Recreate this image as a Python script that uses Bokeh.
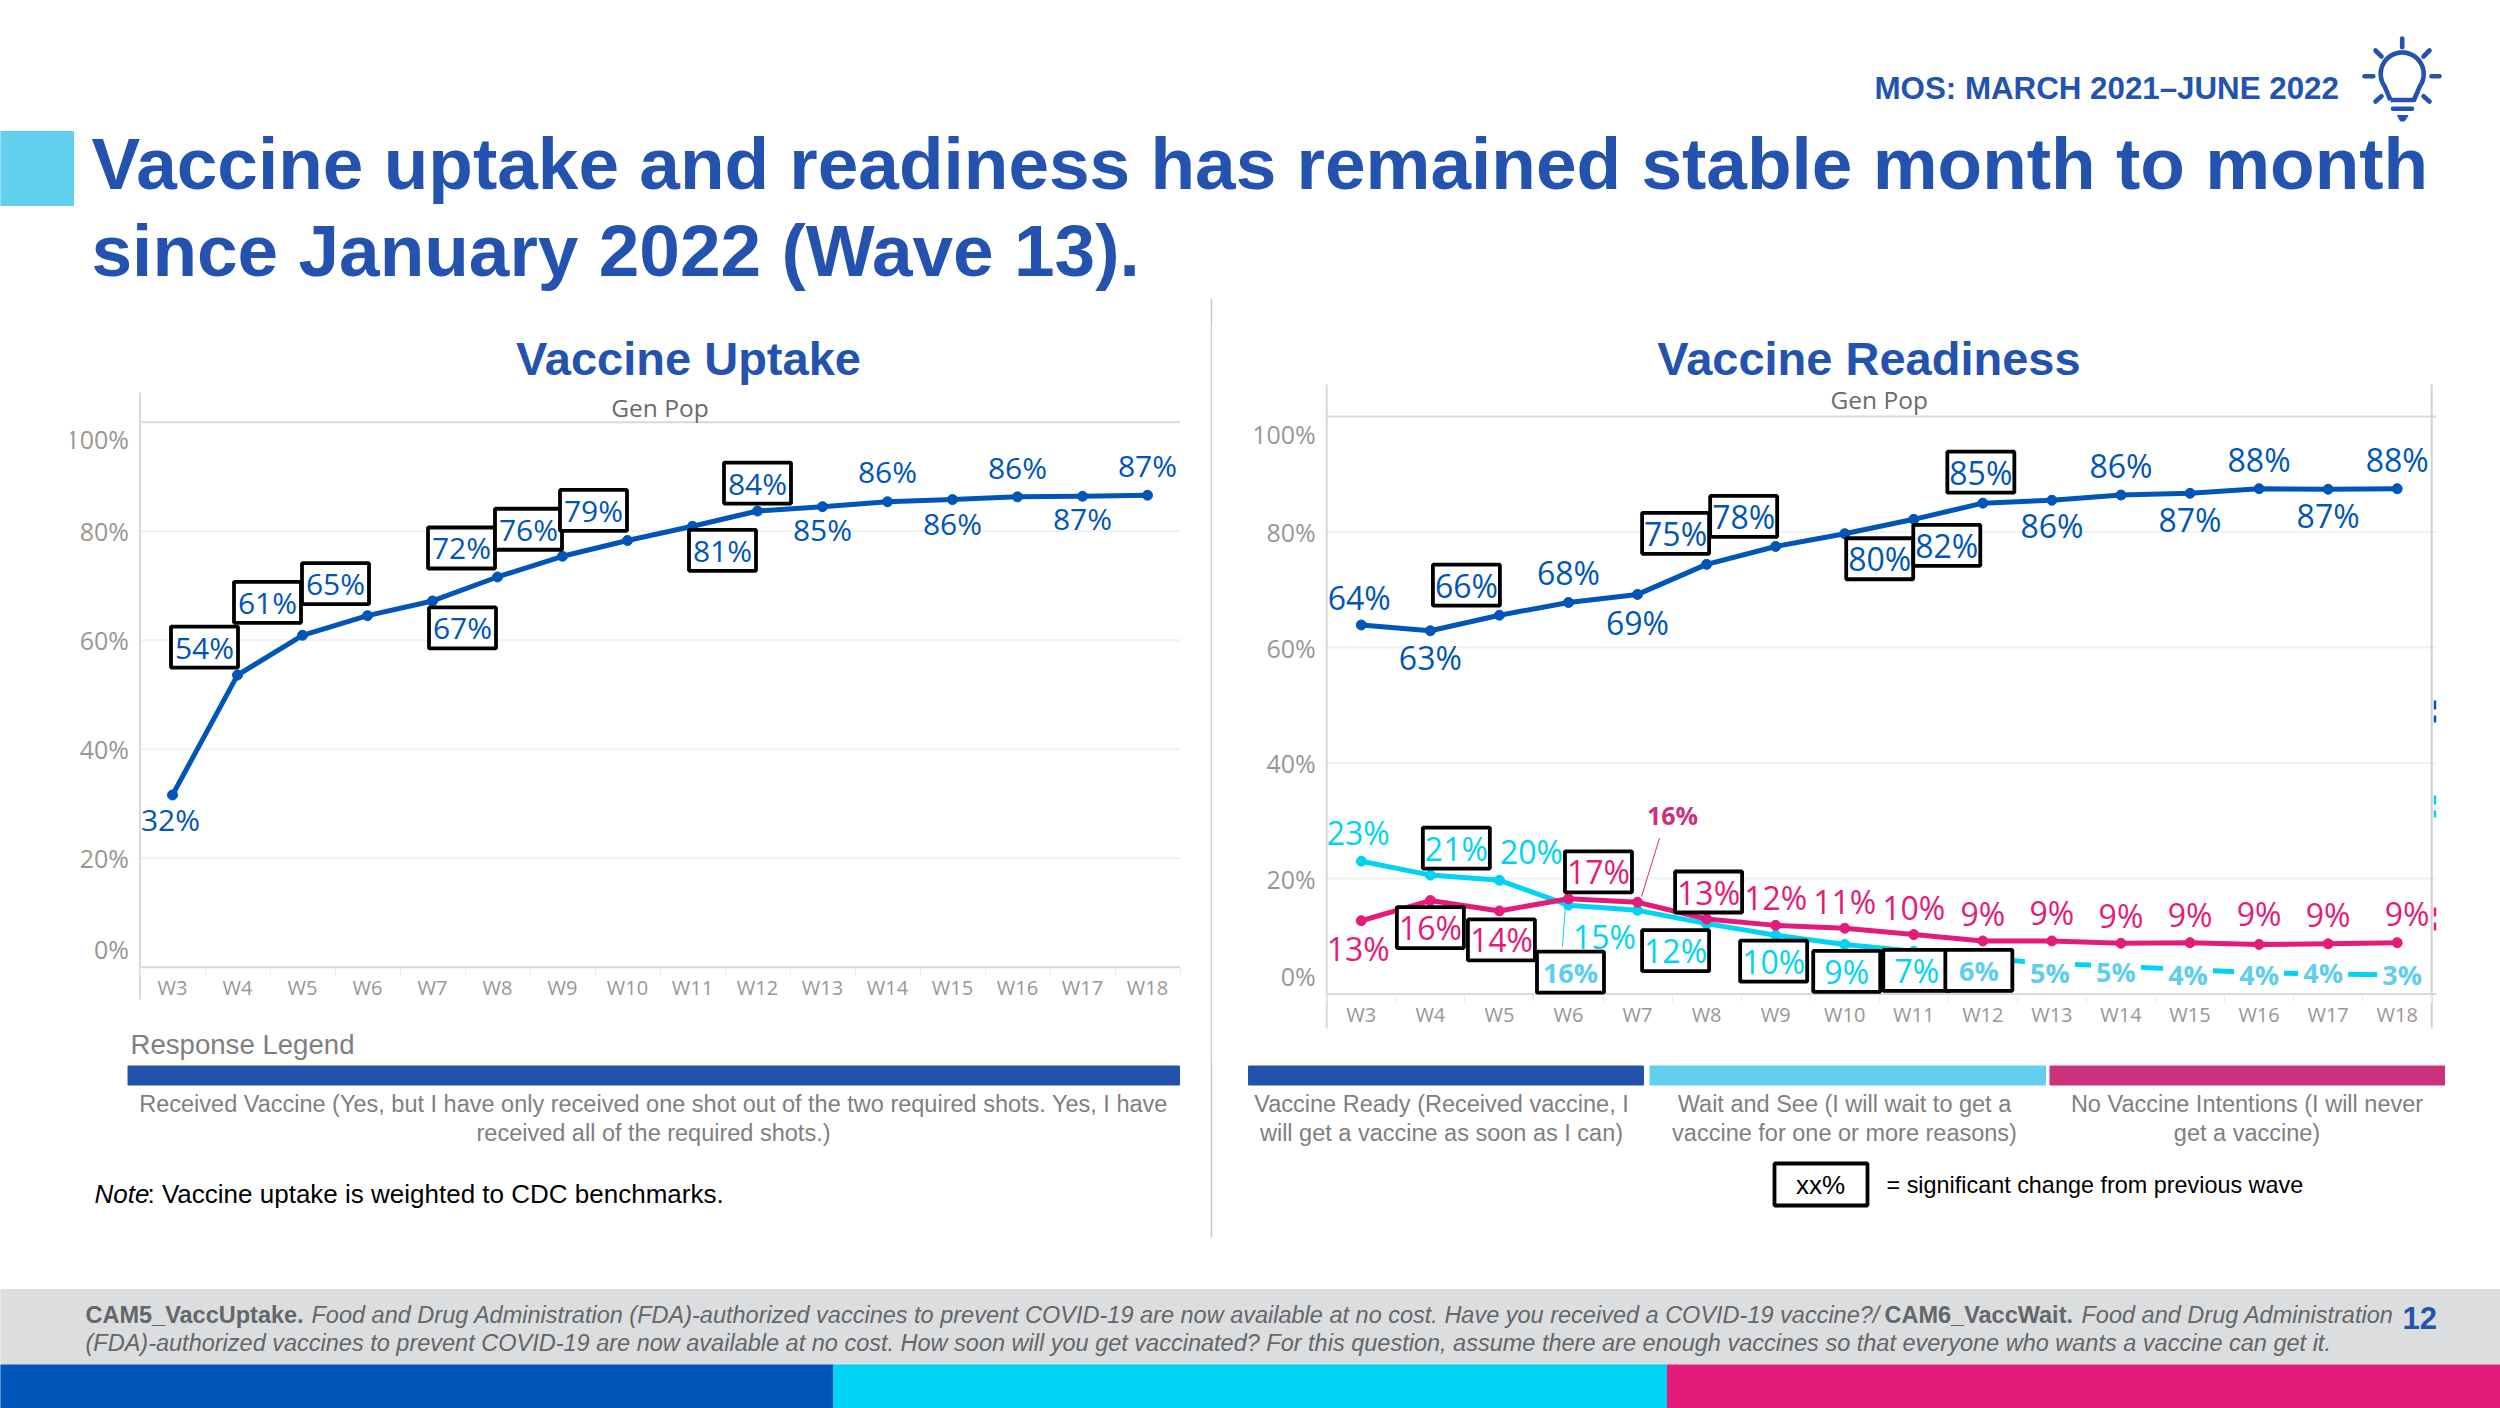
import numpy as np
from bokeh.core.properties import value
from bokeh.embed import file_html
from bokeh.layouts import column, row
from bokeh.models import FixedTicker, Range1d
from bokeh.plotting import figure
from bokeh.resources import INLINE

# ---------- data ----------
weeks = ["W3", "W4", "W5", "W6", "W7", "W8", "W9", "W10", "W11", "W12", "W13", "W14", "W15", "W16", "W17", "W18"]
y_ticks = [0, 20, 40, 60, 80, 100]
y_tick_labels = ["0%", "20%", "40%", "60%", "80%", "100%"]

uptake_values = [31.6, 53.6, 60.9, 64.5, 67.2, 71.6, 75.4, 78.3, 80.9, 83.7, 84.5, 85.4, 85.8, 86.3, 86.4, 86.6]
uptake_labels = ["32%", "54%", "61%", "65%", "67%", "72%", "76%", "79%", "81%", "84%", "85%", "86%", "86%", "86%", "87%", "87%"]
uptake_sig = [0, 1, 1, 1, 1, 1, 1, 1, 1, 1, 0, 0, 0, 0, 0, 0]

ready_values = [63.9, 62.9, 65.6, 67.8, 69.2, 74.4, 77.5, 79.7, 82.2, 85.0, 85.5, 86.4, 86.7, 87.5, 87.4, 87.5]
ready_labels = ["64%", "63%", "66%", "68%", "69%", "75%", "78%", "80%", "82%", "85%", "86%", "86%", "87%", "88%", "87%", "88%"]
ready_sig = [0, 0, 1, 0, 0, 1, 1, 1, 1, 1, 0, 0, 0, 0, 0, 0]

wait_values = [23.0, 20.6, 19.7, 15.4, 14.5, 12.2, 10.2, 8.6, 7.4, 6.2, 5.3, 4.8, 4.2, 3.7, 3.5, 3.3]
wait_labels = ["23%", "21%", "20%", "16%", "15%", "12%", "10%", "9%", "7%", "6%", "5%", "5%", "4%", "4%", "4%", "3%"]
wait_sig = [0, 1, 0, 1, 0, 1, 1, 1, 1, 1, 0, 0, 0, 0, 0, 0]

never_values = [12.7, 16.2, 14.4, 16.5, 15.9, 13.0, 11.9, 11.4, 10.3, 9.2, 9.2, 8.8, 8.9, 8.6, 8.7, 8.9]
never_labels = ["13%", "16%", "14%", "17%", "16%", "13%", "12%", "11%", "10%", "9%", "9%", "9%", "9%", "9%", "9%", "9%"]
never_sig = [0, 1, 1, 1, 0, 1, 0, 0, 0, 0, 0, 0, 0, 0, 0, 0]

# ---------- label placement (pixels from each point) ----------
uptake_dx = [-2, -33, -35, -32, 30, -36, -34, -34, 30, 0, 0, 0, 0, 0, 0, 0]
uptake_dy = [25, -28, -33, -32, 27, -29, -27, -30, 24, -28, 23, -30, 24, -29, 22, -30]
ready_dx = [-2, 0, -33, 0, 0, -31, -32, 35, 33, -2, 0, 0, 0, 0, 0, 0]
ready_dy = [-28, 27, -30, -30, 28, -31, -30, 25, 26, -31, 25, -30, 26, -29, 26, -29]
wait_dx = [-3, 26, 32, 2, -33, -31, -2, 2, 3, -4, -2, -5, -2, 0, -5, 5]
wait_dy = [-29, -27, -29, 67, 26, 27, 26, 27, 19, 12, 9, 5, 5, 2, -1, -1]
never_dx = [-3, 0, 2, 30, 35, 2, 0, 0, 0, 0, 0, 0, 0, 0, 0, 10]
never_dy = [28, 27, 29, -27, -87, -27, -28, -27, -27, -27, -28, -28, -28, -31, -29, -29]
wait_bold = [3, 9, 10, 11, 12, 13, 14, 15]
never_bold = [4]

# ---------- styles ----------
TITLE_BLUE = "#2353AE"
LINE_BLUE = "#0055B8"
LINE_CYAN = "#00D3F3"
LINE_PINK = "#E31C79"
SOFT_CYAN = "#5FCDEE"
DARK_PINK = "#CC2F7C"
GREY_TEXT = "#7F7F7F"
FOOT_TEXT = "#63666A"
AX = "#D9D9D9"
TICK = "#9A9693"
ARIAL = "Liberation Sans"
OPEN = "Open Sans"
xpos = list(range(len(weeks)))
ROW_TOP, ROW_BOTTOM = 324, 1062
CHART_TOP, CHART_BOTTOM = ROW_TOP, ROW_BOTTOM


def txt(p, x, y, s, size, color, font=ARIAL, style="normal", align="left"):
    return p.text(x=[x], y=[y], text=[s], text_font=value(font), text_font_size=f"{size}px",
                  text_font_style=style, text_color=color, text_align=align, text_baseline="middle")


def canvas(w, h, y_top, y_bottom):
    p = figure(width=w, height=h, x_range=Range1d(0, w), y_range=Range1d(y_bottom, y_top),
               output_backend="svg", toolbar_location=None, min_border=0, outline_line_color=None)
    p.axis.visible = False
    p.grid.visible = False
    return p


def chart(w, left_edge, bl, br, x0_px, sx, y0_px, sy, axis_top, axis_bottom, grid_end, head_gap):
    """A chart whose frame is larger than the plot, so its axes and stubs can sit inside the frame."""
    frame_l, frame_r = left_edge + bl, left_edge + w - br
    p = figure(width=w, height=ROW_BOTTOM - ROW_TOP,
               x_range=Range1d((frame_l - x0_px) / sx, (frame_r - x0_px) / sx),
               y_range=Range1d((y0_px - CHART_BOTTOM) / sy, (y0_px - CHART_TOP) / sy),
               output_backend="svg", toolbar_location=None, outline_line_color=None,
               min_border_left=bl, min_border_right=br, min_border_top=0, min_border_bottom=0)
    p.grid.visible = False
    p.xaxis.ticker = FixedTicker(ticks=xpos, minor_ticks=[i - 0.5 for i in xpos] + [15.5])
    p.xaxis.major_label_overrides = {i: w_ for i, w_ in enumerate(weeks)}
    p.xaxis.fixed_location = 0
    p.xaxis.axis_line_color = None
    p.xaxis.major_tick_line_color = None
    p.xaxis.major_tick_out = 0
    p.xaxis.major_tick_in = 0
    p.xaxis.minor_tick_line_color = "#EDEDED"
    p.xaxis.minor_tick_out = 8
    p.xaxis.minor_tick_in = 0
    p.xaxis.major_label_text_font = OPEN
    p.xaxis.major_label_text_font_size = "20px"
    p.xaxis.major_label_text_color = TICK
    p.xaxis.major_label_standoff = -1

    p.yaxis.ticker = FixedTicker(ticks=y_ticks)
    p.yaxis.major_label_overrides = {t: (s if 0 < t < 100 else "") for t, s in zip(y_ticks, y_tick_labels)}
    p.yaxis.fixed_location = -0.5
    p.yaxis.axis_line_color = None
    p.yaxis.major_tick_line_color = None
    p.yaxis.major_tick_out = 0
    p.yaxis.major_tick_in = 0
    p.yaxis.minor_tick_line_color = None
    p.yaxis.major_label_text_font = OPEN
    p.yaxis.major_label_text_font_size = "25px"
    p.yaxis.major_label_text_color = TICK
    p.yaxis.major_label_standoff = 11

    # gridlines and axis lines, limited to the extent they have in the reference
    inner = [t for t in y_ticks if 0 < t < 100]
    p.segment(x0=[-0.5] * len(inner), x1=[grid_end] * len(inner), y0=inner, y1=inner,
              line_color="#F1F1F1", line_width=2)
    p.segment(x0=[-0.5, -0.5], x1=[grid_end, grid_end], y0=[0, 100], y1=[0, 100], line_color=AX, line_width=2)
    p.segment(x0=[-0.5], x1=[-0.5], y0=[axis_bottom], y1=[axis_top], line_color=AX, line_width=2)
    # the two outer percent labels sit inside the band, away from their gridlines
    ends = [i for i, t in enumerate(y_ticks) if t in (0, 100)]
    p.text(x=[-0.5] * 2, y=[y_ticks[i] for i in ends], x_offset=[-11] * 2, y_offset=[-18, 17],
           text=[y_tick_labels[i] for i in ends], text_font=value(OPEN), text_font_size="25px",
           text_color=TICK, text_align="right", text_baseline="middle")
    p.text(x=[7.5], y=[100], y_offset=[head_gap], text=["Gen Pop"], text_font=value(OPEN), text_font_size="24.5px",
           text_color="#6B6B6B", text_align="center", text_baseline="middle")
    return p


def series_line(p, vals, color):
    p.line(xpos, vals, line_color=color, line_width=5, line_join="round")
    p.scatter(xpos, vals, size=10, color=color)


def series_labels(p, vals, labels, sig, dx, dy, color, size, sx, sy, bold=(), bold_color=None, bold_size=27,
                  box_w=67, box_h=41, mask=()):
    lx = [x + d / sx for x, d in zip(xpos, dx)]
    ly = [v - d / sy for v, d in zip(vals, dy)]
    if mask:
        p.rect([lx[i] for i in mask], [ly[i] for i in mask], width=50 / sx, height=32 / sy,
               fill_color="white", line_color=None)
    bx = [i for i, f in enumerate(sig) if f]
    if bx:
        p.rect([lx[i] for i in bx], [ly[i] for i in bx], width=box_w / sx, height=box_h / sy,
               fill_color="white", line_color="black", line_width=3.8)
    plain = [i for i in xpos if i not in bold]
    p.text([lx[i] for i in plain], [ly[i] for i in plain], text=[labels[i] for i in plain],
           text_font=value(OPEN), text_font_size=f"{size}px", text_color=color,
           text_align="center", text_baseline="middle")
    if bold:
        p.text([lx[i] for i in bold], [ly[i] for i in bold], text=[labels[i] for i in bold],
               text_font=value(OPEN), text_font_size=f"{bold_size}px", text_font_style="bold",
               text_color=bold_color, text_align="center", text_baseline="middle")


# ---------- header ----------
head = canvas(2500, ROW_TOP, 0, ROW_TOP)
head.quad(left=[0], right=[73], top=[131], bottom=[205], color="#62CFEE")
txt(head, 91, 163, "Vaccine uptake and readiness has remained stable month to month", 73, TITLE_BLUE, style="bold")
txt(head, 91, 250, "since January 2022 (Wave 13).", 73, TITLE_BLUE, style="bold")
txt(head, 1874, 88, "MOS: MARCH 2021\u2013JUNE 2022", 31.3, TITLE_BLUE, style="bold")
head.segment(x0=[1211], x1=[1211], y0=[298], y1=[ROW_TOP], line_color="#C8C8C8", line_width=1.5)
# light-bulb icon
arc = np.radians(np.linspace(215, -35, 60))
bulb_x = [2390] + list(2401.7 + 21.5 * np.cos(arc)) + [2413.5, 2390]
bulb_y = [99.5] + list(73.5 - 21.5 * np.sin(arc)) + [99.5, 99.5]
head.line(bulb_x, bulb_y, line_color=TITLE_BLUE, line_width=4.6, line_join="round")
head.segment(x0=[2401.7, 2431, 2364, 2375, 2429, 2375, 2429, 2392.5],
             x1=[2401.7, 2439, 2372.7, 2381, 2423, 2381, 2423, 2411.5],
             y0=[38, 75.7, 75.7, 50, 50, 101, 101, 108.3],
             y1=[46.7, 75.7, 75.7, 56, 56, 95.7, 95.7, 108.3],
             line_color=TITLE_BLUE, line_width=4.6, line_cap="round")
head.patch([2397, 2407.5, 2404, 2400], [115, 115, 120.5, 120.5], color=TITLE_BLUE)

# ---------- left chart ----------
X0_L, Y0_L, SX_L, SY_L = 172.0, 966.7, 65.0, 5.45
left = chart(1212, 0, 70, 0, X0_L, SX_L, Y0_L, SY_L, 105.45, -5.93, 15.5, -15)
txt(left, (688 - X0_L) / SX_L, (Y0_L - 358) / SY_L, "Vaccine Uptake", 47, TITLE_BLUE, style="bold", align="center")
txt(left, (130 - X0_L) / SX_L, (Y0_L - 1044) / SY_L, "Response Legend", 27.6, GREY_TEXT)
left.segment(x0=[(1211 - X0_L) / SX_L], x1=[(1211 - X0_L) / SX_L], y0=[-30], y1=[130], line_color="#C8C8C8", line_width=1.5)
series_line(left, uptake_values, LINE_BLUE)
series_labels(left, uptake_values, uptake_labels, uptake_sig, uptake_dx, uptake_dy, LINE_BLUE, 30, SX_L, SY_L)

# ---------- right chart ----------
X0_R, Y0_R, SX_R, SY_R = 1360.8, 993.6, 69.06, 5.776
GRID_END_R = (2436 - X0_R) / SX_R
right = chart(1288, 1212, 28, 50, X0_R, SX_R, Y0_R, SY_R, 105.54, -5.96, GRID_END_R, -17)
txt(right, (1868.5 - X0_R) / SX_R, (Y0_R - 358) / SY_R, "Vaccine Readiness", 47, TITLE_BLUE, style="bold", align="center")
right.segment(x0=[15.5], x1=[15.5], y0=[-5.96], y1=[105.54], line_color="#D0D0D0", line_width=2)
# slivers of cropped labels that show just past the chart's right edge
sliver_x = (2434.5 - X0_R) / SX_R
for px_top, px_bottom, col in ((700, 722, LINE_BLUE), (795, 817, LINE_CYAN), (907, 930, LINE_PINK)):
    right.segment(x0=[sliver_x], x1=[sliver_x], y0=[(Y0_R - px_top) / SY_R], y1=[(Y0_R - px_bottom) / SY_R],
                  line_color=col, line_width=2.5, line_dash="9 6")
series_line(right, ready_values, LINE_BLUE)
series_line(right, wait_values, LINE_CYAN)
series_line(right, never_values, LINE_PINK)
right.segment(x0=[3 - 3 / SX_R], x1=[3 - 6 / SX_R], y0=[wait_values[3]], y1=[8.2], line_color=LINE_CYAN, line_width=1)
right.segment(x0=[4 + 4 / SX_R], x1=[4 + 22 / SX_R], y0=[never_values[4] + 1], y1=[27.0], line_color=DARK_PINK, line_width=1)
series_labels(right, ready_values, ready_labels, ready_sig, ready_dx, ready_dy, LINE_BLUE, 32, SX_R, SY_R)
series_labels(right, wait_values, wait_labels, wait_sig, wait_dx, wait_dy, LINE_CYAN, 32, SX_R, SY_R,
              bold=wait_bold, bold_color=SOFT_CYAN, mask=[10, 11, 12, 13, 14, 15])
series_labels(right, never_values, never_labels, never_sig, never_dx, never_dy, LINE_PINK, 32, SX_R, SY_R,
              bold=never_bold, bold_color=DARK_PINK, bold_size=25)

# ---------- lower panel ----------
foot = canvas(2500, 1408 - ROW_BOTTOM, ROW_BOTTOM, 1408)
foot.segment(x0=[1211], x1=[1211], y0=[ROW_BOTTOM], y1=[1237], line_color="#C8C8C8", line_width=1.5)
foot.quad(left=[127.5, 1248, 1649.5, 2049.5], right=[1179, 1643, 2045, 2444], top=[1065.5] * 4, bottom=[1084.5] * 4,
          color=["#2353AE", "#2353AE", "#62CFEE", "#CC317C"])
for xc, a, b in (
    (653, "Received Vaccine (Yes, but I have only received one shot out of the two required shots. Yes, I have", "received all of the required shots.)"),
    (1441, "Vaccine Ready (Received vaccine, I", "will get a vaccine as soon as I can)"),
    (1844, "Wait and See (I will wait to get a", "vaccine for one or more reasons)"),
    (2246.5, "No Vaccine Intentions (I will never", "get a vaccine)"),
):
    txt(foot, xc, 1103, a, 23.5, GREY_TEXT, align="center")
    txt(foot, xc, 1132, b, 23.5, GREY_TEXT, align="center")
txt(foot, 94, 1193, "Note", 26, "black", style="italic")
txt(foot, 147, 1193, ": Vaccine uptake is weighted to CDC benchmarks.", 26, "black")
foot.quad(left=[1774], right=[1867], top=[1163], bottom=[1205], fill_color="white", line_color="black", line_width=3.8)
txt(foot, 1820, 1184, "xx%", 26, "black", align="center")
txt(foot, 1886, 1184, "= significant change from previous wave", 23.4, "black")
foot.quad(left=[0], right=[2500], top=[1289], bottom=[1364.5], color="#DCDDDE")
foot.quad(left=[0, 833, 1667], right=[833, 1667, 2500], top=[1364.5] * 3, bottom=[1408] * 3,
          color=[LINE_BLUE, LINE_CYAN, LINE_PINK])
FS = 23.5
txt(foot, 85, 1314, "CAM5_VaccUptake.", FS, FOOT_TEXT, style="bold")
txt(foot, 311, 1314, "Food and Drug Administration (FDA)-authorized vaccines to prevent COVID-19 are now available at no cost. Have you received a COVID-19 vaccine?/", FS, FOOT_TEXT, style="italic")
txt(foot, 1884, 1314, "CAM6_VaccWait.", FS, FOOT_TEXT, style="bold")
txt(foot, 2081, 1314, "Food and Drug Administration", FS, FOOT_TEXT, style="italic")
txt(foot, 85, 1342.5, "(FDA)-authorized vaccines to prevent COVID-19 are now available at no cost. How soon will you get vaccinated? For this question, assume there are enough vaccines so that everyone who wants a vaccine can get it.", FS, FOOT_TEXT, style="italic")
txt(foot, 2402, 1317, "12", 31, TITLE_BLUE, style="bold")

page = column(head, row(left, right), foot)
open("out.html", "w").write(file_html(page, INLINE))
